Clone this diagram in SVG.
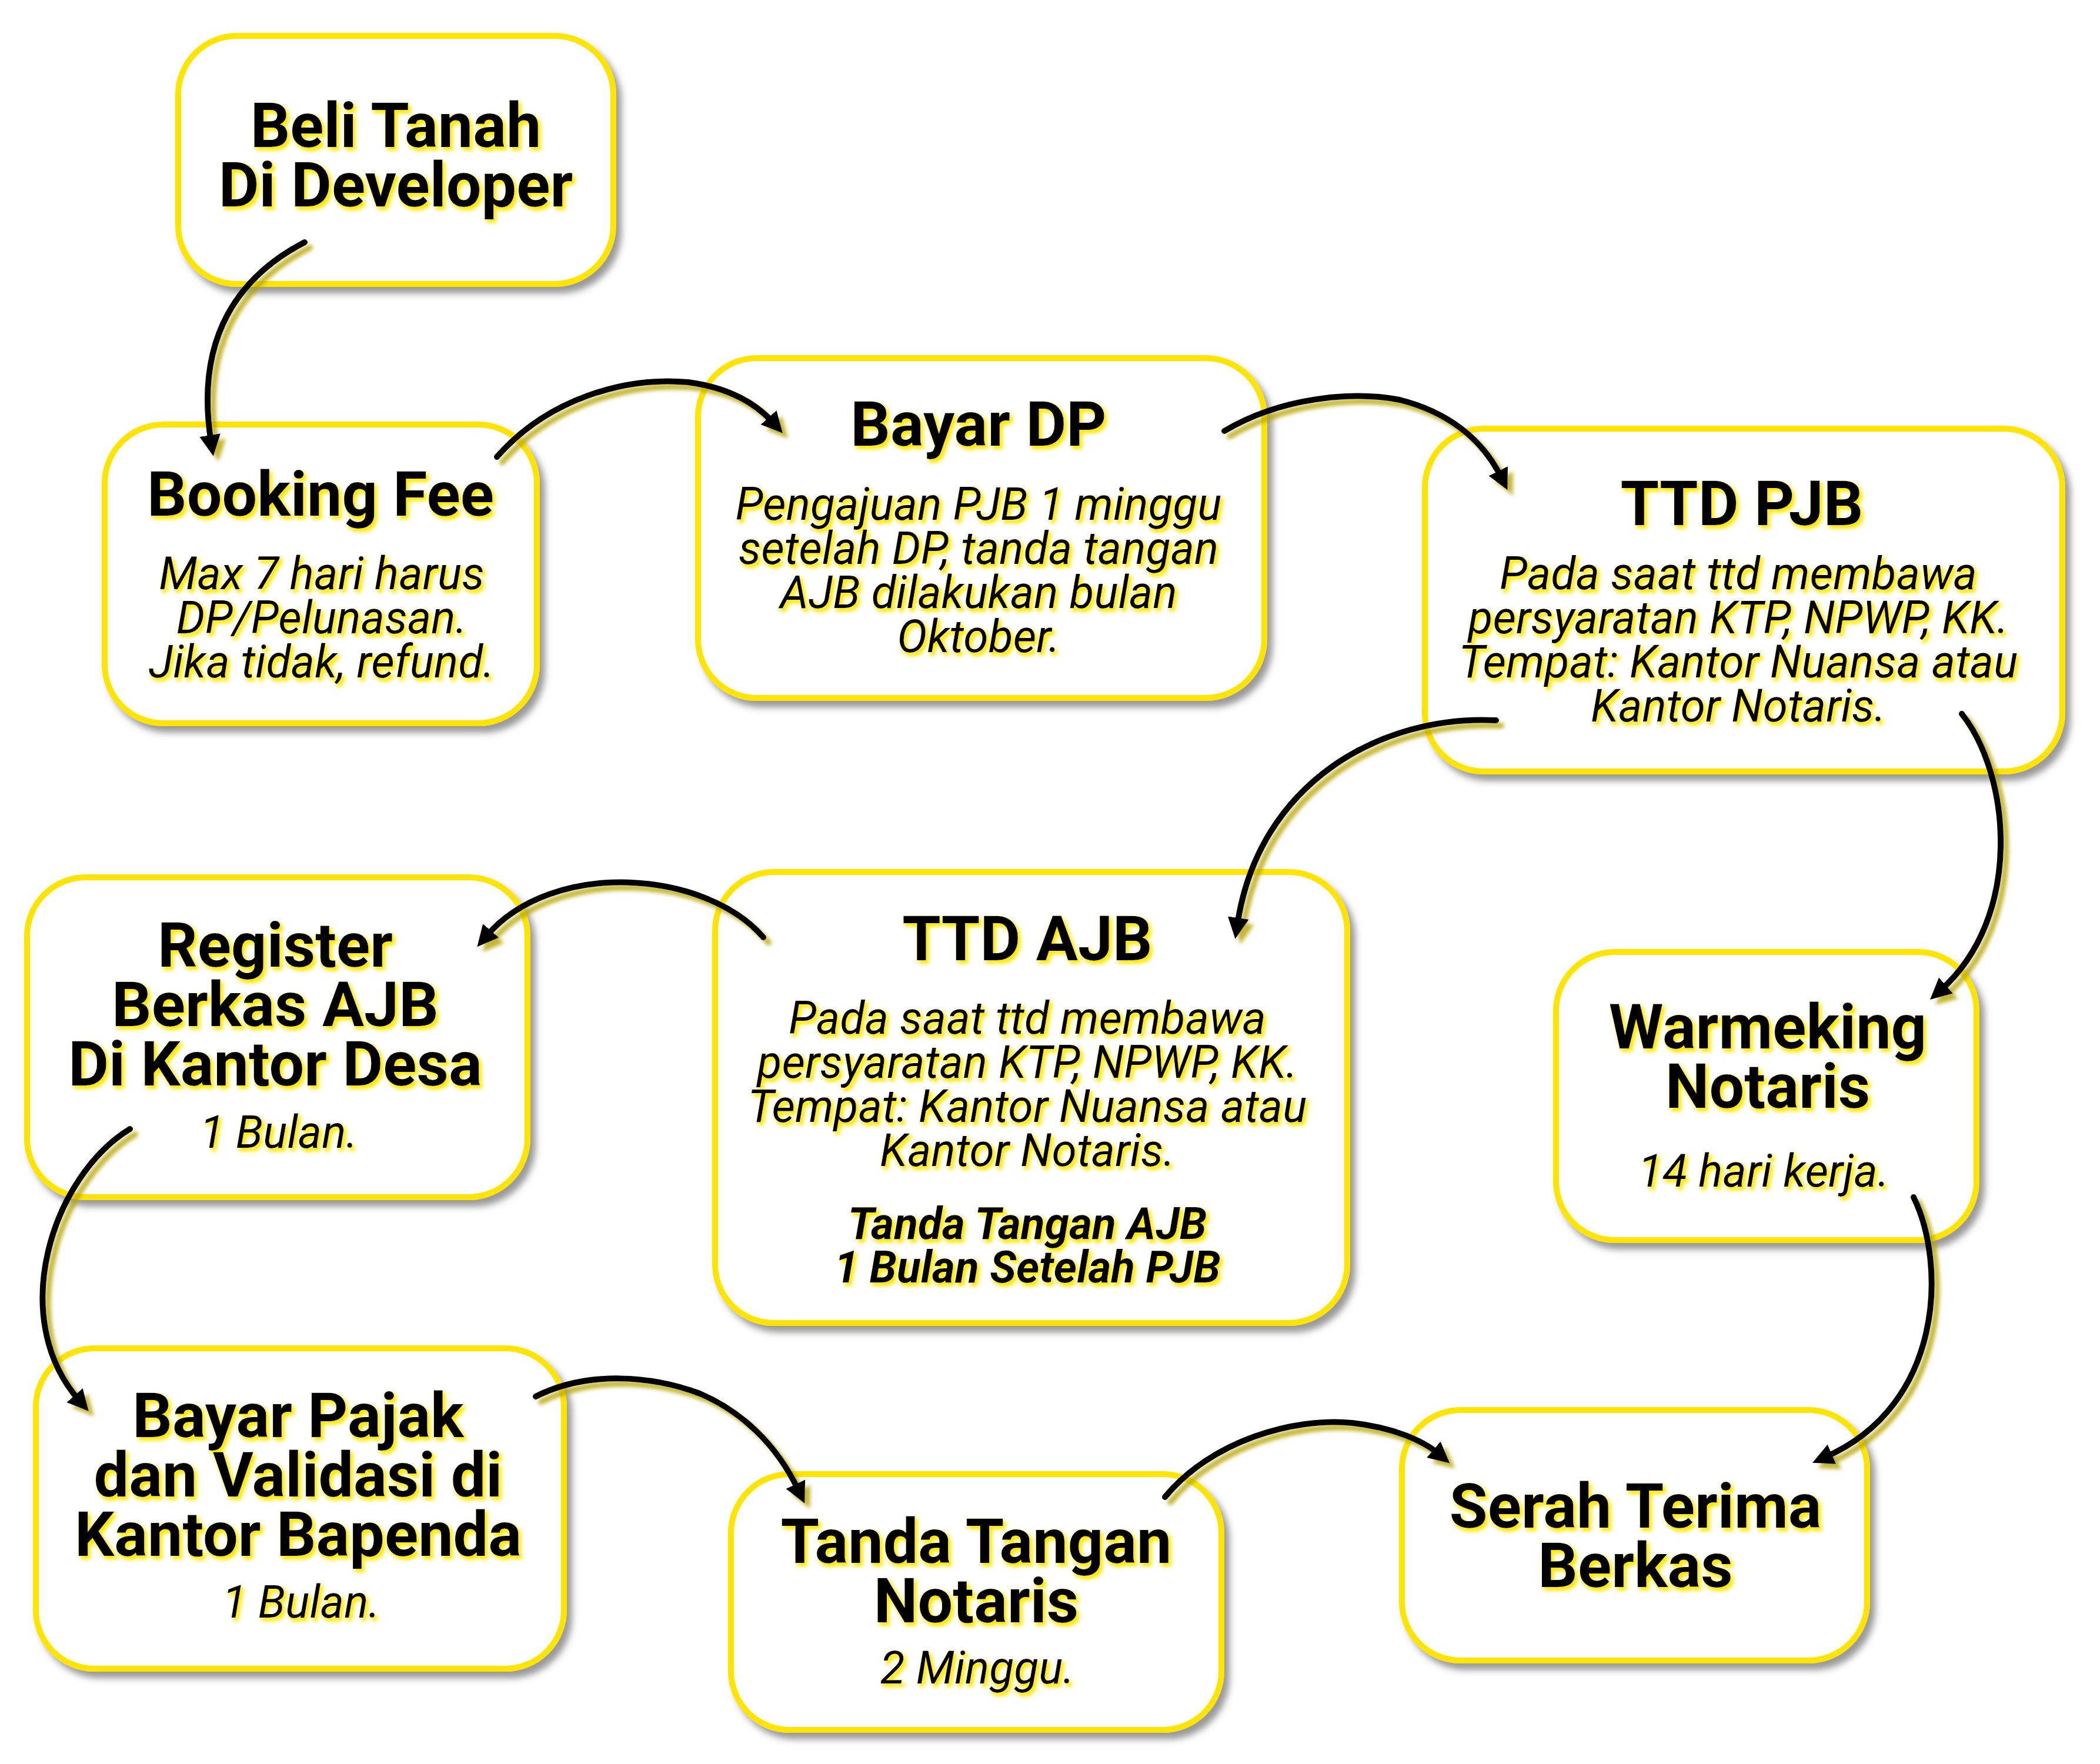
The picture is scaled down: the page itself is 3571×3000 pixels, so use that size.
<svg xmlns="http://www.w3.org/2000/svg" width="3571" height="3000" viewBox="0 0 3571 3000">
<defs>
<style>
.box{fill:#fff;stroke:#FFE400;stroke-width:10}
.t{font-family:Roboto,"Liberation Sans",sans-serif;font-weight:700;font-size:106px;text-anchor:middle;fill:#000}
.b{font-family:Roboto,"Liberation Sans",sans-serif;font-style:italic;font-size:77px;text-anchor:middle;fill:#000}
.bb{font-family:Roboto,"Liberation Sans",sans-serif;font-style:italic;font-weight:700;font-size:75px;text-anchor:middle;fill:#000}
.txt{filter:url(#glow)}
.shape{filter:url(#bsh)}
.arr{fill:none;stroke:#000;stroke-width:10;stroke-linecap:round;marker-end:url(#head)}
</style>
<filter id="bsh" x="-10%" y="-10%" width="125%" height="125%">
<feGaussianBlur in="SourceAlpha" stdDeviation="6"/>
<feOffset dx="9" dy="11" result="o"/>
<feFlood flood-color="#555" flood-opacity="0.6"/>
<feComposite in2="o" operator="in"/>
<feMerge><feMergeNode/><feMergeNode in="SourceGraphic"/></feMerge>
</filter>
<filter id="glow" x="-10%" y="-20%" width="125%" height="150%">
<feMorphology in="SourceAlpha" operator="dilate" radius="1"/>
<feGaussianBlur stdDeviation="3"/>
<feOffset dx="4" dy="5" result="o"/>
<feFlood flood-color="#FFE800"/>
<feComposite in2="o" operator="in"/>
<feMerge><feMergeNode/><feMergeNode in="SourceGraphic"/></feMerge>
</filter>
<filter id="ash" filterUnits="userSpaceOnUse" x="0" y="0" width="3571" height="3000">
<feGaussianBlur in="SourceAlpha" stdDeviation="3"/>
<feOffset dx="9" dy="9" result="o"/>
<feFlood flood-color="#B5A400" flood-opacity="0.8"/>
<feComposite in2="o" operator="in"/>
<feMerge><feMergeNode/><feMergeNode in="SourceGraphic"/></feMerge>
</filter>
<marker id="head" markerUnits="userSpaceOnUse" markerWidth="40" markerHeight="40" viewBox="0 0 40 40" refX="12" refY="20" orient="auto">
<path d="M0,2 L36,20 L0,38 Z" fill="#000"/>
</marker>
</defs>
<rect width="3571" height="3000" fill="#fff"/>

<g id="n1">
<rect class="box shape" x="303" y="61" width="740" height="422" rx="100"/>
<g class="txt"><text class="t" x="673" y="250">Beli Tanah<tspan x="673" dy="101">Di Developer</tspan></text></g>
</g>
<g id="n2">
<rect class="box shape" x="178" y="722" width="735" height="508" rx="100"/>
<g class="txt"><text class="t" x="545" y="877">Booking Fee</text>
<text class="b" x="547" y="1002">Max 7 hari harus<tspan x="547" dy="75">DP/Pelunasan.</tspan><tspan x="547" dy="75">Jika tidak, refund.</tspan></text></g>
</g>
<g id="n3">
<rect class="box shape" x="1187" y="609" width="963" height="578" rx="100"/>
<g class="txt"><text class="t" x="1664" y="758">Bayar DP</text>
<text class="b" x="1664" y="884">Pengajuan PJB 1 minggu<tspan x="1664" dy="75">setelah DP, tanda tangan</tspan><tspan x="1664" dy="75">AJB dilakukan bulan</tspan><tspan x="1664" dy="75">Oktober.</tspan></text></g>
</g>
<g id="n4">
<rect class="box shape" x="2423" y="729" width="1084" height="583" rx="100"/>
<g class="txt"><text class="t" x="2962" y="893">TTD PJB</text>
<text class="b" x="2956" y="1002">Pada saat ttd membawa<tspan x="2956" dy="75">persyaratan KTP, NPWP, KK.</tspan><tspan x="2956" dy="75">Tempat: Kantor Nuansa atau</tspan><tspan x="2956" dy="75">Kantor Notaris.</tspan></text></g>
</g>
<g id="n5">
<rect class="box shape" x="46" y="1492" width="851" height="544" rx="100"/>
<g class="txt"><text class="t" x="468" y="1644">Register<tspan x="468" dy="101">Berkas AJB</tspan><tspan x="468" dy="101">Di Kantor Desa</tspan></text>
<text class="b" x="474" y="1952">1 Bulan.</text></g>
</g>
<g id="n6">
<rect class="box shape" x="1216" y="1483" width="1075" height="767" rx="100"/>
<g class="txt"><text class="t" x="1747" y="1633">TTD AJB</text>
<text class="b" x="1747" y="1758">Pada saat ttd membawa<tspan x="1747" dy="75">persyaratan KTP, NPWP, KK.</tspan><tspan x="1747" dy="75">Tempat: Kantor Nuansa atau</tspan><tspan x="1747" dy="75">Kantor Notaris.</tspan></text>
<text class="bb" x="1747" y="2107">Tanda Tangan AJB<tspan x="1747" dy="74">1 Bulan Setelah PJB</tspan></text></g>
</g>
<g id="n7">
<rect class="box shape" x="2646" y="1619" width="715" height="490" rx="100"/>
<g class="txt"><text class="t" x="3006" y="1783">Warmeking<tspan x="3006" dy="101">Notaris</tspan></text>
<text class="b" x="2999" y="2018">14 hari kerja.</text></g>
</g>
<g id="n8">
<rect class="box shape" x="61" y="2293" width="898" height="545" rx="100"/>
<g class="txt"><text class="t" x="507" y="2444">Bayar Pajak<tspan x="507" dy="101">dan Validasi di</tspan><tspan x="507" dy="101">Kantor Bapenda</tspan></text>
<text class="b" x="512" y="2751">1 Bulan.</text></g>
</g>
<g id="n9">
<rect class="box shape" x="1243" y="2507" width="834" height="435" rx="100"/>
<g class="txt"><text class="t" x="1660" y="2658">Tanda Tangan<tspan x="1660" dy="101">Notaris</tspan></text>
<text class="b" x="1662" y="2863">2 Minggu.</text></g>
</g>
<g id="n10">
<rect class="box shape" x="2384" y="2398" width="791" height="426" rx="100"/>
<g class="txt"><text class="t" x="2781" y="2598">Serah Terima<tspan x="2781" dy="101">Berkas</tspan></text></g>
</g>

<g id="connectors" filter="url(#ash)">
<path class="arr" d="M518,412 C410,468 330,570 359,752"/>
<path class="arr" d="M845,777 C930,680 1060,640 1170,650 C1230,658 1280,680 1315,719"/>
<path class="arr" d="M2082,733 C2180,675 2300,665 2380,680 C2460,700 2520,745 2553,812"/>
<path class="arr" d="M2544,1225 C2350,1215 2140,1330 2104,1573"/>
<path class="arr" d="M3336,1214 C3420,1320 3440,1560 3300,1684"/>
<path class="arr" d="M1298,1594 C1200,1480 940,1460 827,1592"/>
<path class="arr" d="M221,1920 C90,2000 10,2240 135,2382"/>
<path class="arr" d="M911,2375 C1000,2330 1110,2340 1190,2370 C1260,2400 1320,2455 1358,2535"/>
<path class="arr" d="M1981,2546 C2060,2450 2200,2410 2300,2420 C2370,2428 2420,2450 2447,2473"/>
<path class="arr" d="M3254,2036 C3310,2150 3305,2390 3104,2478"/>
</g>
</svg>
